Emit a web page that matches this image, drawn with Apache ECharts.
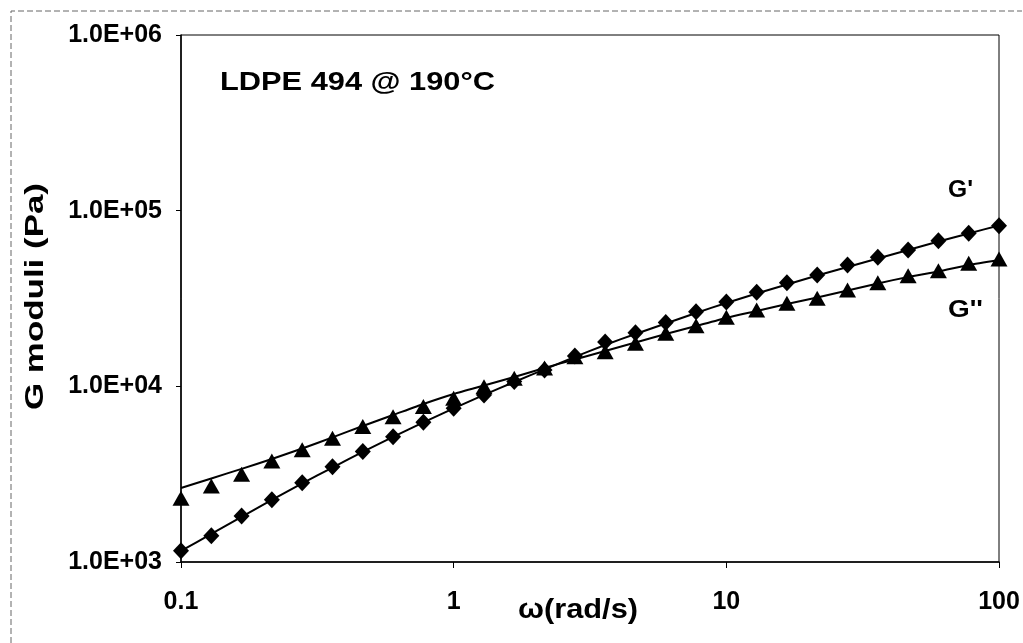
<!DOCTYPE html>
<html>
<head>
<meta charset="utf-8">
<script src="https://cdn.jsdelivr.net/npm/echarts@6/dist/echarts.min.js"></script>
<style>
  html, body { margin: 0; padding: 0; background: #fff; }
  #chart { width: 1023px; height: 643px; }
</style>
</head>
<body>
<div id="chart"></div>
<script>
// Angular frequency (rad/s), nine points per decade
const omega = [0.1, 0.1292, 0.1668, 0.2154, 0.2783, 0.3594, 0.4642, 0.5995, 0.7743,
  1, 1.292, 1.668, 2.154, 2.783, 3.594, 4.642, 5.995, 7.743,
  10, 12.92, 16.68, 21.54, 27.83, 35.94, 46.42, 59.95, 77.43, 100];

// Measured storage modulus G' (Pa)
const gPrime = [1160, 1410, 1830, 2260, 2830, 3490, 4250, 5170, 6250,
  7500, 8940, 10640, 12400, 14890, 17890, 20210, 23050, 26620,
  30220, 34320, 38930, 43050, 49090, 54290, 59740, 67510, 74370, 82140];

// Measured loss modulus G'' (Pa)
const gDoublePrime = [2310, 2710, 3160, 3760, 4350, 5070, 5900, 6720, 7670,
  8560, 9960, 11120, 12730, 14760, 15760, 17590, 20050, 22160,
  24740, 27220, 29720, 31720, 35370, 38930, 42660, 45550, 50180, 53100];

// Model fit curves (Pa)
const gPrimeFit = [1157, 1445, 1806, 2256, 2800, 3450, 4230, 5150, 6230,
  7490, 8940, 10590, 12480, 14700, 17200, 19870, 22800, 26170,
  29830, 33780, 38020, 42770, 47820, 53450, 59740, 66800, 74170, 82370];
const gDoublePrimeFit = [2640, 2990, 3390, 3860, 4430, 5120, 5950, 6870, 7940,
  9050, 10120, 11310, 12730, 14230, 15900, 17780, 19870, 22070,
  24510, 26860, 29440, 32060, 35140, 38530, 41940, 45080, 49090, 52410];

// Tick labels
const xTickLabels = ['0.1', '1', '10', '100'];
const yTickLabels = ['1.0E+03', '1.0E+04', '1.0E+05', '1.0E+06'];

const titleText = 'LDPE 494 @ 190°C';
const xTitle = 'ω(rad/s)';
const yTitle = 'G moduli (Pa)';
const seriesLabels = ["G'", "G''"];

const FONT = '"Liberation Sans", Arial, sans-serif';

function pairs(xs, ys) { return xs.map((x, i) => [x, ys[i]]); }

// Width of a bold string, used to stretch the free-standing texts
const measureCtx = document.createElement('canvas').getContext('2d');
function textWidth(str, size) {
  measureCtx.font = 'bold ' + size + 'px ' + FONT;
  return measureCtx.measureText(str).width;
}
function stretched(str, size, width, props) {
  return Object.assign({
    type: 'text',
    scaleX: width / textWidth(str, size),
    style: {
      text: str,
      fontSize: size,
      fontWeight: 'bold',
      fontFamily: FONT,
      fill: '#000',
      textAlign: 'left',
      align: 'left',
      textVerticalAlign: 'top',
      verticalAlign: 'top'
    }
  }, props);
}

const chart = echarts.init(document.getElementById('chart'), null, { renderer: 'canvas' });

const yTitleEl = stretched(yTitle, 25, 227, { x: 36, y: 296.5, rotation: Math.PI / 2 });
yTitleEl.style.textAlign = yTitleEl.style.align = 'center';
yTitleEl.style.textVerticalAlign = yTitleEl.style.verticalAlign = 'middle';

chart.setOption({
  animation: false,
  backgroundColor: '#fff',
  grid: {
    left: 181, right: 24, top: 35, bottom: 81,
    show: true, borderColor: '#000', borderWidth: 1, backgroundColor: 'transparent'
  },
  xAxis: {
    type: 'log', logBase: 10, min: 0.1, max: 100, interval: 1,
    axisLine: { show: true, onZero: false, lineStyle: { color: '#000', width: 1.5 } },
    axisTick: { show: true, length: 6, lineStyle: { color: '#000', width: 1 } },
    minorTick: { show: false },
    splitLine: { show: false },
    axisLabel: {
      margin: 28, color: '#000', fontSize: 25, fontWeight: 'bold', fontFamily: FONT,
      formatter: v => xTickLabels[Math.round(Math.log10(v)) + 1]
    }
  },
  yAxis: {
    type: 'log', logBase: 10, min: 1000, max: 1000000, interval: 1,
    axisLine: { show: true, lineStyle: { color: '#000', width: 1.5 } },
    axisTick: { show: true, length: 5, lineStyle: { color: '#000', width: 1 } },
    splitLine: { show: false },
    axisLabel: {
      margin: 19, color: '#000', fontSize: 25, fontWeight: 'bold', fontFamily: FONT,
      formatter: v => yTickLabels[Math.round(Math.log10(v)) - 3]
    }
  },
  series: [
    {
      name: "G' fit", type: 'line', data: pairs(omega, gPrimeFit),
      showSymbol: false, smooth: 0.2, clip: false, z: 2,
      lineStyle: { color: '#000', width: 2 }
    },
    {
      name: "G'' fit", type: 'line', data: pairs(omega, gDoublePrimeFit),
      showSymbol: false, smooth: 0.2, clip: false, z: 2,
      lineStyle: { color: '#000', width: 2 }
    },
    {
      name: "G'", type: 'scatter', data: pairs(omega, gPrime),
      symbol: 'diamond', symbolSize: [16, 17], clip: false, z: 3,
      itemStyle: { color: '#000', opacity: 1 }
    },
    {
      name: "G''", type: 'scatter', data: pairs(omega, gDoublePrime),
      symbol: 'triangle', symbolSize: [17, 15], clip: false, z: 3,
      itemStyle: { color: '#000', opacity: 1 }
    }
  ],
  graphic: [
    // dashed outer frame of the chart area
    {
      type: 'polyline', silent: true,
      shape: { points: [[11, 643], [11, 11], [1022, 11]] },
      style: { stroke: '#666', lineWidth: 1, lineDash: [6, 3], fill: null }
    },
    stretched(titleText, 25, 275, { x: 220, y: 71 }),
    stretched(seriesLabels[0], 23, 25, { x: 948, y: 179 }),
    stretched(seriesLabels[1], 23, 35, { x: 948, y: 299 }),
    stretched(xTitle, 27, 120, { x: 518, y: 597 }),
    yTitleEl
  ]
});
</script>
</body>
</html>
